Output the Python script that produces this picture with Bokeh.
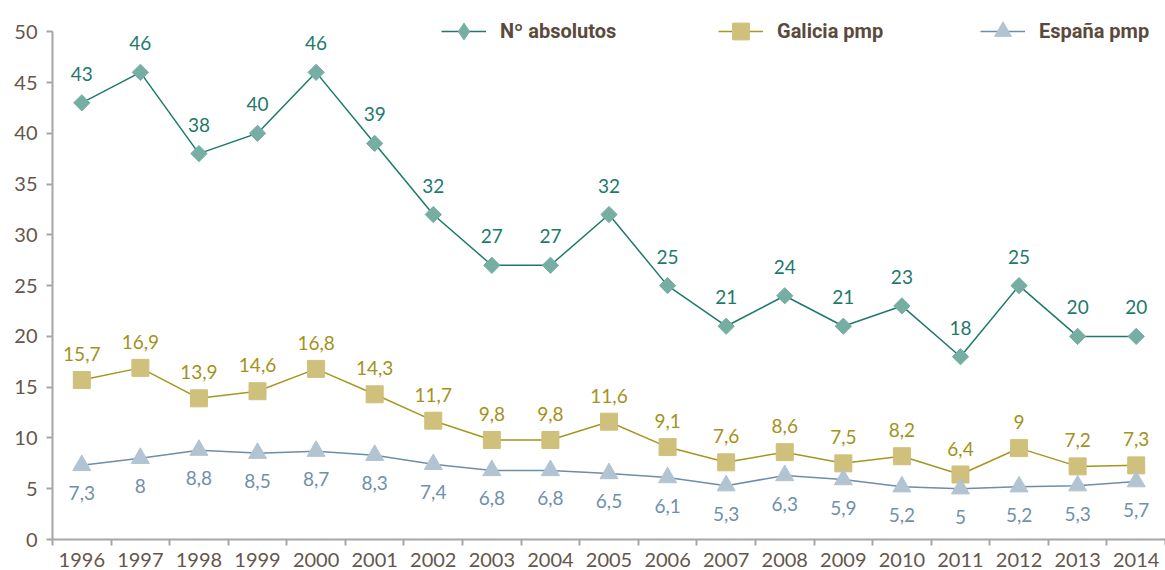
import math
from bokeh.plotting import figure
from bokeh.models import Range1d, FixedTicker, Legend, LegendItem, ColumnDataSource
from bokeh.core.properties import value
from bokeh.embed import file_html
from bokeh.resources import INLINE

years = list(range(1996, 2015))
absolutos = [43, 46, 38, 40, 46, 39, 32, 27, 27, 32, 25, 21, 24, 21, 23, 18, 25, 20, 20]
galicia = [15.7, 16.9, 13.9, 14.6, 16.8, 14.3, 11.7, 9.8, 9.8, 11.6, 9.1, 7.6, 8.6, 7.5, 8.2, 6.4, 9, 7.2, 7.3]
espana = [7.3, 8, 8.8, 8.5, 8.7, 8.3, 7.4, 6.8, 6.8, 6.5, 6.1, 5.3, 6.3, 5.9, 5.2, 5, 5.2, 5.3, 5.7]
series_names = ["Nº absolutos", "Galicia pmp", "España pmp"]
y_ticks = list(range(0, 55, 5))

FONT = "Lato"
BROWN = "#66564a"

def fmt(v):
    return ("%g" % v).replace(".", ",")

p = figure(width=1165, height=570, output_backend="svg", toolbar_location=None,
           x_range=Range1d(years[0] - 0.5, years[-1] + 0.5), y_range=Range1d(0, 51.5))
p.min_border_left = 52
p.min_border_right = 0
p.min_border_top = 16
p.min_border_bottom = 31
p.outline_line_color = None
p.grid.visible = False
p.background_fill_color = "white"

# axes
p.xaxis.ticker = FixedTicker(ticks=years, minor_ticks=[y - 0.5 for y in years] + [years[-1] + 0.5])
p.xaxis.major_tick_out = 0
p.xaxis.major_tick_in = 0
p.xaxis.minor_tick_out = 6
p.xaxis.minor_tick_in = 0
p.xaxis.minor_tick_line_color = "#a6a6a6"
p.xaxis.minor_tick_line_width = 2
p.xaxis.major_label_standoff = 7
p.yaxis.ticker = FixedTicker(ticks=y_ticks)
p.yaxis.bounds = (0, 50)
p.yaxis.minor_tick_line_color = None
p.yaxis.major_tick_out = 6
p.yaxis.major_tick_in = 0
p.yaxis.major_label_standoff = 9
for ax in (p.xaxis, p.yaxis):
    ax.axis_line_color = "#a6a6a6"
    ax.axis_line_width = 2
    ax.major_tick_line_color = "#a6a6a6"
    ax.major_tick_line_width = 2
    ax.major_label_text_font = FONT
    ax.major_label_text_font_size = "20px"
    ax.major_label_text_color = BROWN
p.xaxis.major_label_overrides = {y: str(y) for y in years}

cfg = [
    (absolutos, "#1c7a6b", "#76aea3", "square", 11.5, math.pi / 4, -29, "#1c7a6b", "diamond", 18),
    (galicia, "#a6961c", "#cfc07c", "square", 17, 0, -26, "#a3921a", "square", 17),
    (espana, "#6b8eaa", "#b2c4d1", "triangle", 18, 0, 28, "#6f90aa", "triangle", 18),
]

legend_x = [389, 666, 928]
for (vals, lc, mc, marker, size, ang, yoff, tc, lmarker, lsize), name, lx in zip(cfg, series_names, legend_x):
    src = ColumnDataSource(dict(x=years, y=vals, t=[fmt(v) for v in vals]))
    r1 = p.line("x", "y", source=src, line_color=lc, line_width=1.5)
    r2 = p.scatter("x", "y", source=src, marker=marker, size=size, angle=ang,
                   fill_color=mc, line_color=mc)
    # legend-only marker (placed outside the visible range)
    r3 = p.scatter(x=[years[0] - 5], y=[-10], marker=lmarker, size=lsize,
                   fill_color=mc, line_color=mc)
    p.text("x", "y", text="t", source=src, y_offset=yoff, text_align="center",
           text_baseline="middle", text_font=value(FONT), text_font_size="19px", text_color=tc)
    lg = Legend(items=[LegendItem(label=name, renderers=[r1, r3])],
                location=(lx, 508 - 21),
                orientation="horizontal", glyph_width=45, glyph_height=42,
                label_text_font="Roboto", label_text_font_style="bold",
                label_text_font_size="20px", label_text_color="#5a4a3c",
                label_standoff=14, padding=0, margin=0, border_line_color=None,
                background_fill_alpha=0)
    p.add_layout(lg, "center")

open("out.html", "w").write(file_html(p, INLINE))
